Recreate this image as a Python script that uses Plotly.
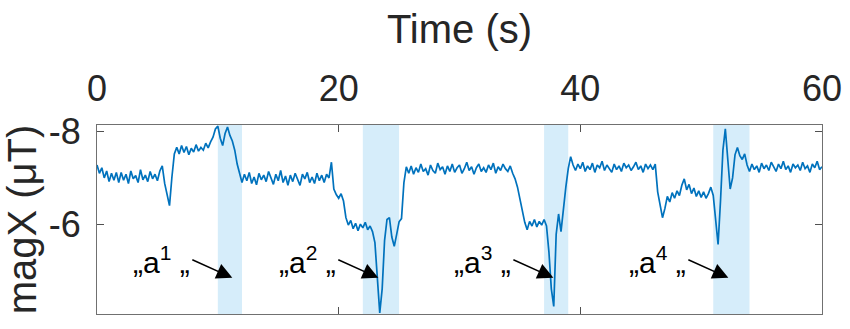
import numpy as np
import plotly.graph_objects as go

# ---- data ----
sample_step = 0.2  # seconds between samples
mag_x = [
    -7.28, -7.10, -7.22, -7.00, -7.15, -6.92, -7.10, -6.95, -7.12, -6.90,
    -7.12, -6.95, -7.08, -6.88, -7.15, -6.98, -7.05, -6.90, -7.18, -6.96,
    -7.06, -6.92, -7.14, -6.98, -7.08, -6.94, -7.15, -7.26, -6.88, -6.62,
    -6.40, -7.02, -7.52, -7.66, -7.52, -7.70, -7.55, -7.68, -7.50, -7.64,
    -7.56, -7.72, -7.58, -7.66, -7.60, -7.75, -7.65, -7.78, -7.88, -8.06,
    -8.12, -7.86, -7.70, -7.96, -8.10, -7.92, -7.80, -7.60, -7.30, -7.10,
    -6.90, -7.08, -6.94, -7.12, -6.88, -7.02, -6.85, -7.10, -6.96, -7.06,
    -6.92, -7.14, -6.98, -6.86, -7.08, -6.94, -7.16, -6.90, -7.04, -6.84,
    -7.06, -6.92, -7.10, -6.96, -6.84, -7.08, -6.98, -7.12, -6.90, -7.02,
    -6.88, -7.10, -6.94, -7.06, -6.90, -7.08, -7.00, -7.34, -6.76, -6.64,
    -6.56, -6.66, -6.50, -6.14, -5.98, -6.08, -5.90, -6.02, -5.86, -6.00,
    -5.92, -6.04, -5.88, -5.96, -5.84, -5.60, -4.85, -4.08, -4.60, -5.65,
    -6.10, -6.14, -5.72, -5.52, -5.78, -6.05, -6.12, -6.90, -7.24, -7.10,
    -7.26, -7.08, -7.22, -7.12, -7.30, -7.14, -7.20, -7.06, -7.28, -7.16,
    -7.10, -7.32, -7.18, -7.24, -7.08, -7.26, -7.14, -7.30, -7.12, -7.22,
    -7.28, -7.10, -7.20, -7.34, -7.16, -7.24, -7.08, -7.22, -7.30, -7.14,
    -7.22, -7.12, -7.28, -7.18, -7.32, -7.10, -7.24, -7.16, -7.30, -7.20,
    -7.14, -7.26, -7.10, -6.98, -6.80, -6.52, -6.32, -6.04, -5.88, -6.06,
    -5.96, -6.10, -5.94, -6.06, -5.98, -6.10, -5.96, -5.40, -4.60, -4.22,
    -5.78, -6.22, -5.84, -6.36, -6.80, -7.20, -7.46, -7.28, -7.16, -7.30,
    -7.20, -7.34, -7.14, -7.26, -7.18, -7.32, -7.12, -7.28, -7.22, -7.36,
    -7.16, -7.28, -7.20, -7.12, -7.30, -7.18, -7.26, -7.14, -7.32, -7.22,
    -7.28, -7.16, -7.24, -7.34, -7.18, -7.26, -7.12, -7.30, -7.20, -7.28,
    -7.18, -7.30, -6.70, -6.42, -6.14, -6.34, -6.60, -6.48, -6.68, -6.56,
    -6.72, -6.62, -6.84, -6.98, -6.74, -6.86, -6.66, -6.78, -6.60, -6.72,
    -6.58, -6.70, -6.56, -6.66, -6.80, -6.62, -6.10, -5.56, -6.50, -7.60,
    -8.06, -7.30, -6.76, -7.00, -7.50, -7.66, -7.48, -7.40, -7.52, -7.28,
    -7.14, -7.30, -7.18, -7.26, -7.12, -7.32, -7.20, -7.28, -7.16, -7.34,
    -7.22, -7.14, -7.30, -7.20, -7.36, -7.18, -7.26, -7.12, -7.30, -7.22,
    -7.28, -7.16, -7.34, -7.20, -7.26, -7.12, -7.30, -7.22, -7.36, -7.18,
    -7.24,
]
time_s = np.arange(len(mag_x)) * sample_step

band_start = [10.0, 22.0, 37.0, 51.0]
band_end = [12.0, 25.0, 39.0, 54.0]

event_labels = ["1", "2", "3", "4"]
arrow_x = [11.2, 23.28, 37.77, 52.25]
arrow_y = -4.84

x_ticks = [0, 20, 40, 60]
y_ticks = [-8, -6]
y_tick_labels = ["-8", "-6"]

# ---- figure ----
fig = go.Figure()
for s, e in zip(band_start, band_end):
    fig.add_shape(type="rect", xref="x", yref="paper", x0=s, x1=e, y0=0, y1=1,
                  fillcolor="#d6edfa", line_width=0, layer="below")

fig.add_trace(go.Scatter(x=time_s, y=mag_x, mode="lines",
                         line=dict(color="#0072BD", width=1.7),
                         showlegend=False, hoverinfo="skip"))

font_family = "Liberation Sans, Arial, sans-serif"
for lab, ax_ in zip(event_labels, arrow_x):
    fig.add_annotation(x=ax_, y=arrow_y, xref="x", yref="y",
                       text="\u201ea<sup>" + lab + "</sup> \u201e",
                       showarrow=True, ax=-40, ay=-18, arrowhead=2,
                       arrowsize=2.1, arrowwidth=1.5, arrowcolor="black",
                       font=dict(size=30, color="black", family=font_family),
                       xanchor="right", yanchor="middle")

axis_common = dict(showline=True, linecolor="#707070", linewidth=1.2, mirror="ticks",
                   ticks="inside", ticklen=7, tickcolor="#505050", tickwidth=1,
                   showgrid=False, zeroline=False, automargin=False,
                   tickfont=dict(size=36, color="#262626", family=font_family))
fig.update_xaxes(range=[0, 60], side="top", tickvals=x_ticks, ticklabelstandoff=9,
                 title=dict(text="Time (s)", standoff=11,
                            font=dict(size=40, color="#262626", family=font_family)),
                 **axis_common)
fig.update_yaxes(range=[-4.056, -8.145], tickvals=y_ticks, ticktext=y_tick_labels,
                 ticklabelstandoff=8,
                 title=dict(text="magX (\u03bcT)", standoff=20,
                            font=dict(size=40, color="#262626", family=font_family)),
                 **axis_common)

fig.update_layout(width=850, height=329, margin=dict(l=97, r=28, t=125, b=15),
                  plot_bgcolor="white", paper_bgcolor="white")

fig.write_html("out.html", config={"displayModeBar": False},
               post_script="document.body.style.margin='0';")
